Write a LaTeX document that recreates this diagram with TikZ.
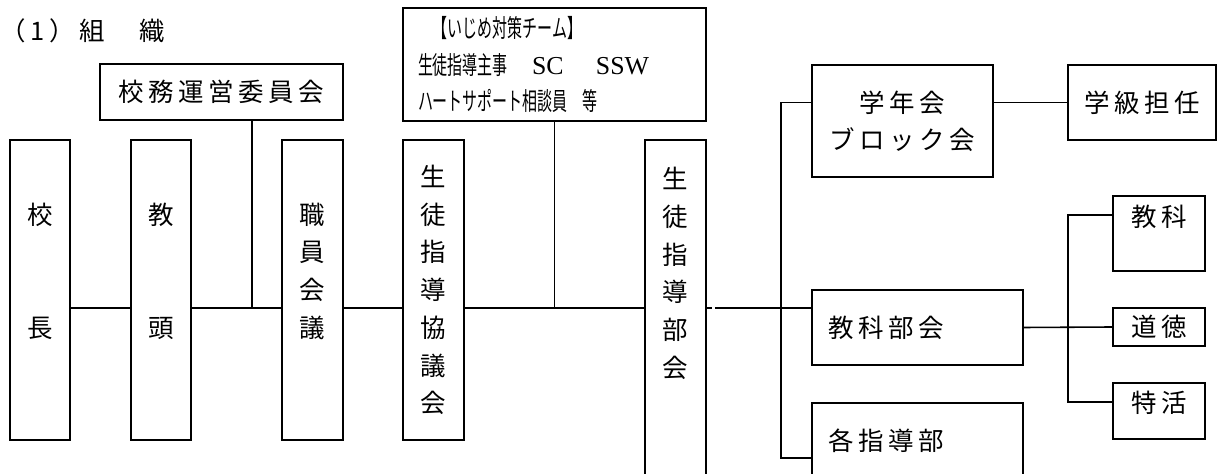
\documentclass[tikz,border=0pt]{standalone}
\usepackage{fontspec}
\usepackage{graphicx}
\newfontfamily\jpfont{Noto Sans CJK JP}
\newfontfamily\jpwide[LetterSpace=18]{Noto Sans CJK JP}
\newfontfamily\serifroman{Liberation Serif}
\newcommand\slim[1]{\scalebox{0.6}[1]{#1}}
\newcommand\blank{\phantom{会}}
\begin{document}
\begin{tikzpicture}[
  frame/.style={draw, line width=0.9pt, inner sep=0pt, font=\jpwide\fontsize{14.5pt}{21pt}\selectfont},
  tate/.style={frame, minimum width=1.2cm, minimum height=6cm, align=center, font=\jpfont\fontsize{14.5pt}{21.5pt}\selectfont},
  side/.style={frame, minimum width=1.84cm},
  link/.style={line width=0.9pt}
]
\useasboundingbox (0,0) rectangle (24.36,-9.48);
\clip (0,0) rectangle (24.36,-9.48);
\node [anchor=west, inner sep=0pt, font=\jpwide\fontsize{14.5pt}{21pt}\selectfont] (title) at (0,-0.62) {（1）組　織};
\node [tate] (kocho) at (0.8,-5.8) {\blank\\校\\\blank\\\blank\\長\\\blank\\\blank};
\node [tate] (kyoto) at (3.22,-5.8) {\blank\\教\\\blank\\\blank\\頭\\\blank\\\blank};
\node [tate, minimum width=1.22cm] (shokuin) at (6.25,-5.8) {\blank\\職\\員\\会\\議\\\blank\\\blank};
\node [tate, minimum width=1.22cm] (kyogikai) at (8.67,-5.8) {生\\徒\\指\\導\\協\\議\\会};
\node [tate, minimum width=1.22cm, minimum height=7.6cm] (bukai) at (13.51,-6.6) {生\\徒\\指\\導\\部\\会\\\blank\\\blank\\\blank};
\node [frame, minimum width=4.86cm, minimum height=1.12cm] (unei) at (4.43,-1.84) {校務運営委員会};
\node [frame, minimum width=6.06cm, minimum height=2.26cm, text width=5.46cm, align=left,
  font=\jpfont\fontsize{14.2pt}{21pt}\selectfont] (team) at (11.09,-1.29)
  {\slim{　【いじめ対策チーム】}\\\makebox[2.28cm][l]{\slim{生徒指導主事}}{\serifroman\fontsize{14.7pt}{21pt}\selectfont\makebox[1.28cm][l]{SC}SSW}\\\slim{ハートサポート相談員　等}};
\node [frame, minimum width=3.62cm, minimum height=2.24cm, align=center] (gakunen) at (18.05,-2.42) {学年会\\ブロック会};
\node [frame, minimum width=2.96cm, minimum height=1.5cm] (tannin) at (22.84,-2.05) {学級担任};
\node [frame, minimum width=4.22cm, minimum height=1.5cm, text width=3.58cm, align=left] (kyokabu) at (18.35,-6.55) {教科部会};
\node [frame, minimum width=4.22cm, minimum height=2.2cm, text width=3.58cm, align=left, text depth=0.75cm] (kakushido) at (18.35,-9.16) {各指導部};
\node [side, minimum height=1.5cm, text depth=0.69cm] (kyoka) at (23.18,-4.67) {教科};
\node [side, minimum height=0.76cm] (dotoku) at (23.18,-6.54) {道徳};
\node [side, minimum height=1.12cm, text depth=0.35cm] (tokkatsu) at (23.18,-8.22) {特活};
\coordinate (mid) at (0,-6.16);
\coordinate (uneidrop) at (5.04,-6.16);
\coordinate (trunk) at (15.62,-6.16);
\coordinate (subtop) at (21.36,-4.3);
\coordinate (subbot) at (21.36,-8.04);
\draw [link] (kocho.east |- mid) -- (kyoto.west |- mid);
\draw [link] (kyoto.east |- mid) -- (shokuin.west |- mid);
\draw [link] (shokuin.east |- mid) -- (kyogikai.west |- mid);
\draw [link] (kyogikai.east |- mid) -- (bukai.west |- mid);
\draw [link] (uneidrop |- unei.south) -- (uneidrop);
\draw [link] (team.south) -- (team.south |- mid);
\draw [link] (bukai.east |- mid) -- ++(0.11,0);
\draw [link] ([xshift=0.16cm]bukai.east |- mid) -- (kyokabu.west |- mid);
\draw [link] (gakunen.west |- tannin.west) -- (trunk |- tannin.west) -- (trunk |- kakushido.west) -- (kakushido.west);
\draw [link] (gakunen.east |- tannin.west) -- (tannin.west);
\draw [link] (kyokabu.east) -- (dotoku.west);
\draw [link] (kyoka.west |- subtop) -- (subtop) -- (subbot) -- (tokkatsu.west |- subbot);
\end{tikzpicture}
\end{document}
